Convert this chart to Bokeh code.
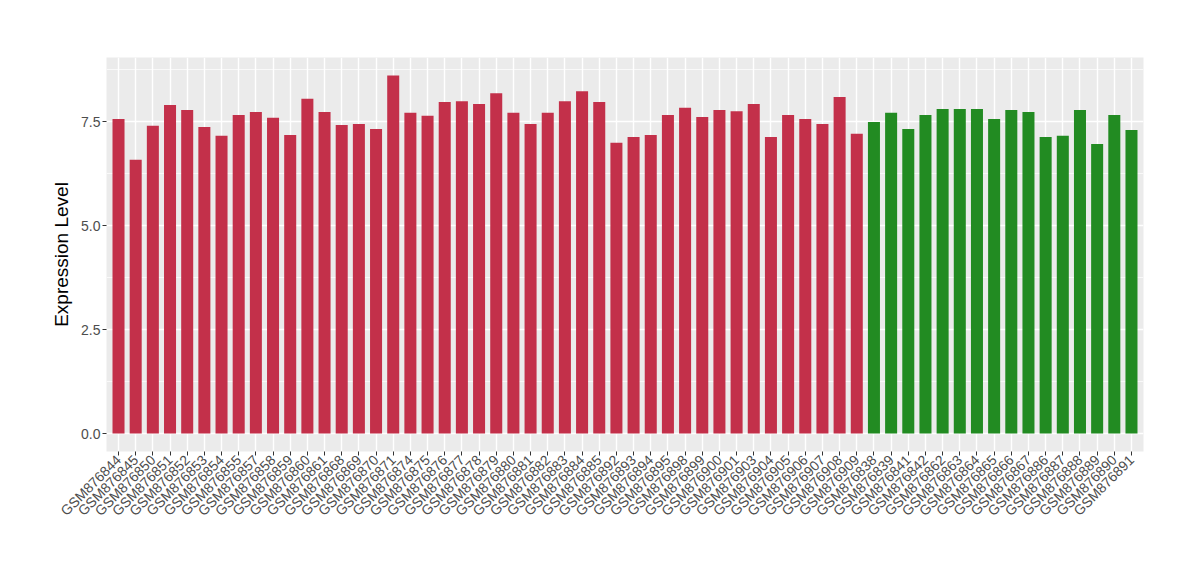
import math
from bokeh.plotting import figure
from bokeh.models import FactorRange, Range1d, FixedTicker, CustomJSTickFormatter
from bokeh.embed import file_html
from bokeh.resources import INLINE

red_samples = ["GSM876844", "GSM876845", "GSM876850", "GSM876851", "GSM876852", "GSM876853",
               "GSM876854", "GSM876855", "GSM876857", "GSM876858", "GSM876859", "GSM876860",
               "GSM876861", "GSM876868", "GSM876869", "GSM876870", "GSM876871", "GSM876874",
               "GSM876875", "GSM876876", "GSM876877", "GSM876878", "GSM876879", "GSM876880",
               "GSM876881", "GSM876882", "GSM876883", "GSM876884", "GSM876885", "GSM876892",
               "GSM876893", "GSM876894", "GSM876895", "GSM876898", "GSM876899", "GSM876900",
               "GSM876901", "GSM876903", "GSM876904", "GSM876905", "GSM876906", "GSM876907",
               "GSM876908", "GSM876909"]
red_values = [7.56, 6.58, 7.40, 7.90, 7.78, 7.37, 7.16, 7.66, 7.73, 7.59, 7.18, 8.05,
              7.73, 7.42, 7.44, 7.32, 8.61, 7.71, 7.64, 7.97, 7.99, 7.92, 8.18, 7.71,
              7.44, 7.71, 7.99, 8.23, 7.97, 6.99, 7.13, 7.18, 7.66, 7.83, 7.61, 7.78,
              7.75, 7.92, 7.13, 7.66, 7.56, 7.44, 8.09, 7.21]
green_samples = ["GSM876838", "GSM876839", "GSM876841", "GSM876842", "GSM876862", "GSM876863",
                 "GSM876864", "GSM876865", "GSM876866", "GSM876867", "GSM876886", "GSM876887",
                 "GSM876888", "GSM876889", "GSM876890", "GSM876891"]
green_values = [7.49, 7.71, 7.32, 7.66, 7.80, 7.80, 7.80, 7.56, 7.78, 7.73, 7.13, 7.16,
                7.78, 6.96, 7.66, 7.30]
y_ticks = [0.0, 2.5, 5.0, 7.5]
y_minor = [1.25, 3.75, 6.25, 8.75]

RED = "#C3304A"
GREEN = "#228B22"
FONT = "Liberation Sans"

factors = red_samples + green_samples
ymax = max(red_values + green_values)

p = figure(width=1200, height=580, output_backend="svg", toolbar_location=None,
           x_range=FactorRange(factors=factors, range_padding=0.2, range_padding_units="absolute"),
           y_range=Range1d(-0.05 * ymax, ymax * 1.05),
           min_border_left=106, min_border_right=57, min_border_top=57, min_border_bottom=129)
p.background_fill_color = "#EBEBEB"
p.border_fill_color = "white"
p.outline_line_color = None

p.vbar(x=red_samples, top=red_values, bottom=0, width=0.7, fill_color=RED, line_color=None)
p.vbar(x=green_samples, top=green_values, bottom=0, width=0.7, fill_color=GREEN, line_color=None)

p.yaxis.ticker = FixedTicker(ticks=y_ticks, minor_ticks=y_minor)
p.yaxis.formatter = CustomJSTickFormatter(code="return tick.toFixed(1);")

p.xgrid.grid_line_color = "white"
p.xgrid.grid_line_width = 1.4
p.ygrid.grid_line_color = "white"
p.ygrid.grid_line_width = 1.4
p.ygrid.minor_grid_line_color = "white"
p.ygrid.minor_grid_line_width = 0.7

for ax in (p.xaxis[0], p.yaxis[0]):
    ax.axis_line_color = None
    ax.major_tick_line_color = "#333333"
    ax.major_tick_out = 4
    ax.major_tick_in = 0
    ax.minor_tick_line_color = None
    ax.major_label_text_color = "#4D4D4D"
    ax.major_label_text_font = FONT
    ax.major_label_text_font_size = "14px"

p.xaxis.major_label_orientation = math.pi / 4
p.xaxis.major_label_standoff = 2
p.yaxis.major_label_standoff = 2
p.yaxis.axis_label = "Expression Level"
p.yaxis.axis_label_text_font = FONT
p.yaxis.axis_label_text_font_size = "19px"
p.yaxis.axis_label_text_font_style = "normal"
p.yaxis.axis_label_text_color = "black"
p.yaxis.axis_label_standoff = 6

open("out.html", "w").write(file_html(p, INLINE))
